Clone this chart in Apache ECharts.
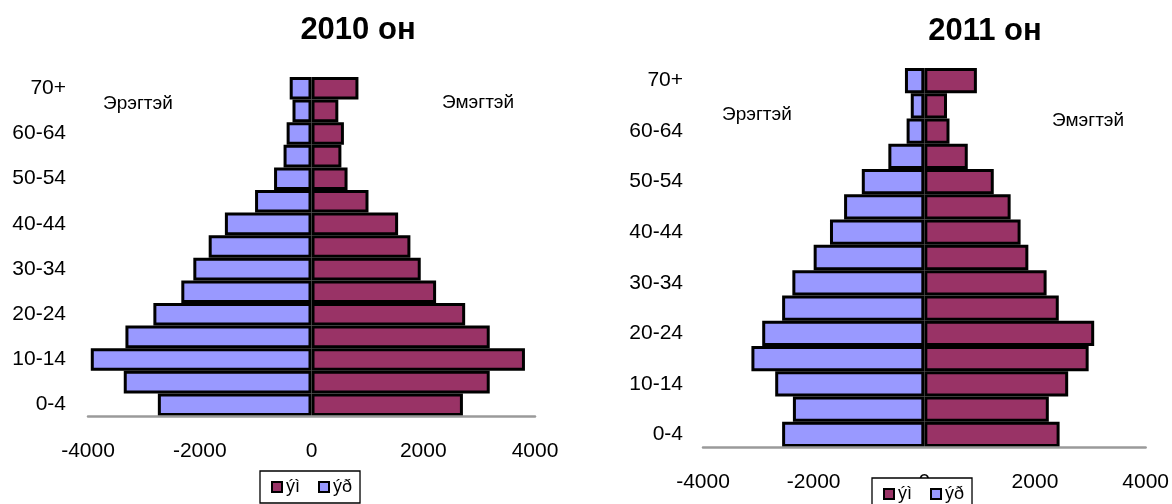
<!DOCTYPE html>
<html><head><meta charset="utf-8">
<script src="https://cdn.jsdelivr.net/npm/echarts@6/dist/echarts.min.js"></script>
<style>html,body{margin:0;padding:0;background:#fff}#c{width:1172px;height:504px}</style>
</head><body><div id="c"></div>
<script>
const categories = ['0-4','5-9','10-14','15-19','20-24','25-29','30-34','35-39','40-44','45-49','50-54','55-59','60-64','65-69','70+'];
const male2010 = [-2750, -3360, -3950, -3330, -2830, -2330, -2115, -1840, -1550, -1010, -670, -500, -445, -340, -390];
const female2010 = [2710, 3190, 3820, 3190, 2750, 2230, 1955, 1770, 1550, 1020, 645, 535, 580, 480, 840];
const male2011 = [-2570, -2375, -2695, -3125, -2930, -2570, -2385, -2000, -1705, -1450, -1130, -650, -320, -245, -350];
const female2011 = [2445, 2250, 2600, 2970, 3070, 2430, 2210, 1880, 1740, 1560, 1255, 785, 455, 410, 950];
const titles = ['2010 он', '2011 он'];
const maleLabel = 'Эрэгтэй';
const femaleLabel = 'Эмэгтэй';
const legendNames = ['ýì', 'ýð'];

const FONT = "'Liberation Sans', Arial, sans-serif";
const BLUE = '#9999FF', MAROON = '#993366';

function xAx(gi) {
  return {
    type: 'value', gridIndex: gi, min: -4000, max: 4000, interval: 2000, z: 3,
    axisLine: { show: true, onZero: false, lineStyle: { color: '#9a9a9a', width: 2.5 } },
    axisTick: { show: false }, splitLine: { show: false },
    axisLabel: { color: '#000', fontSize: 21, fontFamily: FONT, margin: 25, formatter: v => String(v) }
  };
}
function yAx(gi, margin) {
  return {
    type: 'category', gridIndex: gi, data: categories,
    axisLine: { show: false, onZero: false }, axisTick: { show: false },
    axisLabel: { color: '#000', fontSize: 21, fontFamily: FONT, interval: 1, margin: margin }
  };
}
function barSeries(name, data, color, gi) {
  return {
    type: 'bar', name: name, data: data, xAxisIndex: gi, yAxisIndex: gi,
    barCategoryGap: '0%', barGap: '-100%',
    itemStyle: { color: color, borderColor: '#000', borderWidth: 3 },
    emphasis: { disabled: true }
  };
}
function legendAt(left, top) {
  return {
    left: left, top: top, data: legendNames, orient: 'horizontal',
    backgroundColor: '#fff', borderColor: '#000', borderWidth: 1.3,
    padding: [7, 8, 7, 11], itemGap: 18, itemWidth: 10, itemHeight: 10, icon: 'rect',
    itemStyle: { borderColor: '#000', borderWidth: 2 },
    textStyle: { fontSize: 18, fontFamily: FONT, color: '#000', padding: [0, 0, 0, -1] },
    selectedMode: false
  };
}
function txt(x, y, s, size, bold) {
  return { type: 'text', x: x, y: y, z: 10,
    style: { text: s, fontSize: size, fontWeight: bold ? 'bold' : 'normal', fontFamily: FONT, fill: '#000',
      textAlign: bold ? 'center' : 'left', textVerticalAlign: 'middle' } };
}

const chart = echarts.init(document.getElementById('c'));
chart.setOption({
  animation: false,
  backgroundColor: '#fff',
  grid: [
    { left: 88, right: 1172 - 535, top: 77, bottom: 504 - 416, containLabel: false },
    { left: 703, right: 1172 - 1146, top: 68, bottom: 504 - 447, containLabel: false }
  ],
  xAxis: [xAx(0), xAx(1)],
  yAxis: [yAx(0, 22), yAx(1, 20)],
  legend: [legendAt(260, 471), legendAt(872, 478)],
  series: [
    barSeries(legendNames[0], female2010, MAROON, 0),
    barSeries(legendNames[1], male2010, BLUE, 0),
    barSeries(legendNames[0], female2011, MAROON, 1),
    barSeries(legendNames[1], male2011, BLUE, 1)
  ],
  graphic: [
    txt(358, 30, titles[0], 31, true),
    txt(985, 31, titles[1], 31, true),
    txt(103, 104, maleLabel, 19),
    txt(442, 103, femaleLabel, 19),
    txt(722, 115, maleLabel, 19),
    txt(1052, 121, femaleLabel, 19)
  ]
});
</script>
</body></html>
